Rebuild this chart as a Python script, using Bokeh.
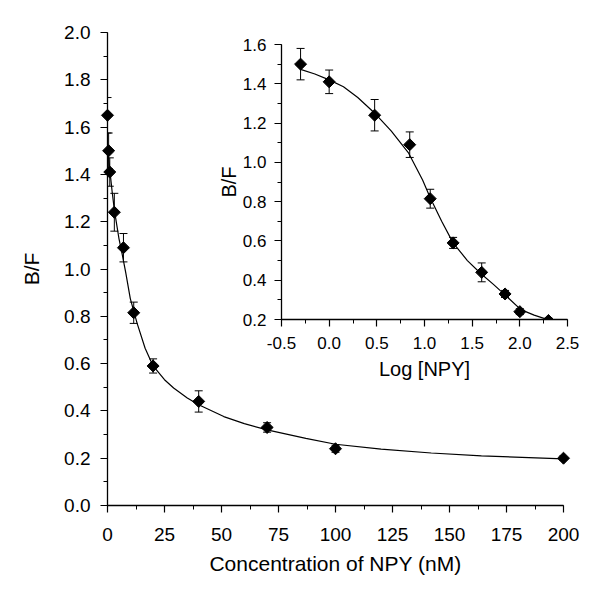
from bokeh.plotting import figure
from bokeh.models import (Range1d, SingleIntervalTicker, ColumnDataSource, Whisker,
                          TeeHead, GridBox, NumeralTickFormatter, Column)
from bokeh.embed import file_html
from bokeh.resources import INLINE

# ---------------- data ----------------
conc = [0, 0.5, 1, 3, 7, 11.5, 20, 40, 70, 100, 200]
bf_main = [1.65, 1.50, 1.41, 1.24, 1.09, 0.815, 0.59, 0.44, 0.33, 0.24, 0.20]
err_main = [0.075, 0.075, 0.06, 0.08, 0.06, 0.045, 0.03, 0.045, 0.02, 0.015, 0.01]

fit_conc = [0, 0.5, 1, 2, 3, 5, 6.5, 8, 10, 13, 16.5, 20, 25, 29, 35, 40, 51, 60, 70,
            87, 100, 120, 142, 164, 200]
fit_bf = [1.48, 1.47, 1.42, 1.33, 1.25, 1.13, 1.06, 0.985, 0.875, 0.77, 0.665, 0.59, 0.532,
          0.497, 0.455, 0.426, 0.376, 0.346, 0.32, 0.284, 0.259, 0.238, 0.222, 0.21, 0.197]

log_npy = [-0.30, 0.0, 0.477, 0.845, 1.06, 1.30, 1.60, 1.845, 2.0, 2.30]
bf_inset = [1.50, 1.41, 1.24, 1.09, 0.815, 0.59, 0.44, 0.33, 0.24, 0.195]
err_inset = [0.08, 0.06, 0.08, 0.065, 0.048, 0.028, 0.048, 0.018, 0.015, 0.012]

fit_log = [-0.3, -0.15, 0.0, 0.15, 0.3, 0.47, 0.65, 0.83, 0.98, 1.06, 1.18, 1.3, 1.45,
           1.59, 1.72, 1.83, 2.01, 2.15, 2.3]
fit_log_bf = [1.473, 1.45, 1.42, 1.385, 1.33, 1.254, 1.16, 1.05, 0.91, 0.82, 0.70, 0.59,
              0.50, 0.434, 0.38, 0.332, 0.25, 0.222, 0.198]

main_xticks_interval = 25
main_yticks_interval = 0.2
inset_xticks_interval = 0.5
inset_yticks_interval = 0.2

FONT = "Liberation Sans"
W, H = 600, 593


def style(fig, tick_size, label_size, xlstand, ylstand, xstand, ystand):
    fig.grid.visible = False
    fig.outline_line_color = None
    for ax in (fig.xaxis[0], fig.yaxis[0]):
        ax.axis_line_color = "black"
        ax.axis_line_width = 1.3
        ax.major_tick_line_color = "black"
        ax.minor_tick_line_color = "black"
        ax.major_tick_line_width = 1.2
        ax.minor_tick_line_width = 1
        ax.major_tick_in = 0
        ax.major_tick_out = 7
        ax.minor_tick_in = 0
        ax.minor_tick_out = 4
        ax.major_label_text_font = FONT
        ax.major_label_text_font_size = tick_size
        ax.major_label_text_color = "black"
        ax.axis_label_text_font = FONT
        ax.axis_label_text_font_size = label_size
        ax.axis_label_text_font_style = "normal"
        ax.axis_label_text_color = "black"
    fig.xaxis[0].major_label_standoff = xlstand
    fig.yaxis[0].major_label_standoff = ylstand
    fig.xaxis[0].axis_label_standoff = xstand
    fig.yaxis[0].axis_label_standoff = ystand


# ---------------- main plot ----------------
p = figure(width=W, height=H, x_range=Range1d(0, 200), y_range=Range1d(0, 2),
           output_backend="svg", toolbar_location=None,
           min_border_left=107, min_border_right=37, min_border_top=32, min_border_bottom=88,
           x_axis_label="Concentration of NPY (nM)", y_axis_label="B/F")
p.xaxis.ticker = SingleIntervalTicker(interval=main_xticks_interval, num_minor_ticks=2)
p.yaxis.ticker = SingleIntervalTicker(interval=main_yticks_interval, num_minor_ticks=2)
p.yaxis.formatter = NumeralTickFormatter(format="0.0")
style(p, "19px", "21px", 15, 10, 8, 18)

p.line(fit_conc, fit_bf, line_color="black", line_width=1.2)

src_main = ColumnDataSource(dict(
    x=conc, y=bf_main,
    upper=[b + e for b, e in zip(bf_main, err_main)],
    lower=[b - e for b, e in zip(bf_main, err_main)]))
wm = Whisker(base="x", upper="upper", lower="lower", source=src_main,
             line_color="black", line_width=1, level="overlay",
             upper_head=TeeHead(size=8, line_color="black", line_width=1),
             lower_head=TeeHead(size=8, line_color="black", line_width=1))
p.add_layout(wm)
rm = p.scatter("x", "y", source=src_main, marker="square", angle=0.785398, size=8.5,
               fill_color="black", line_color="black")
rm.level = "overlay"

# ---------------- inset ----------------
q = figure(width=W, height=H, x_range=Range1d(-0.5, 2.5), y_range=Range1d(0.2, 1.6),
           output_backend="svg", toolbar_location=None,
           min_border_left=281, min_border_right=33, min_border_top=44, min_border_bottom=274,
           x_axis_label="Log [NPY]", y_axis_label="B/F",
           background_fill_alpha=0, border_fill_alpha=0)
q.xaxis.ticker = SingleIntervalTicker(interval=inset_xticks_interval, num_minor_ticks=2)
q.yaxis.ticker = SingleIntervalTicker(interval=inset_yticks_interval, num_minor_ticks=2)
q.xaxis.formatter = NumeralTickFormatter(format="0.0")
q.yaxis.formatter = NumeralTickFormatter(format="0.0")
style(q, "17px", "20px", 10, 8, 6, 0)

q.line(fit_log, fit_log_bf, line_color="black", line_width=1.2)
src_in = ColumnDataSource(dict(
    x=log_npy, y=bf_inset,
    upper=[b + e for b, e in zip(bf_inset, err_inset)],
    lower=[b - e for b, e in zip(bf_inset, err_inset)]))
wi = Whisker(base="x", upper="upper", lower="lower", source=src_in,
             line_color="black", line_width=1,
             upper_head=TeeHead(size=8, line_color="black", line_width=1),
             lower_head=TeeHead(size=8, line_color="black", line_width=1))
q.add_layout(wi)
q.scatter("x", "y", source=src_in, marker="square", angle=0.785398, size=8.5,
          fill_color="black", line_color="black")

layout = GridBox(children=[(Column(p), 0, 0), (Column(q), 0, 0)])

open("out.html", "w").write(file_html(layout, INLINE))
